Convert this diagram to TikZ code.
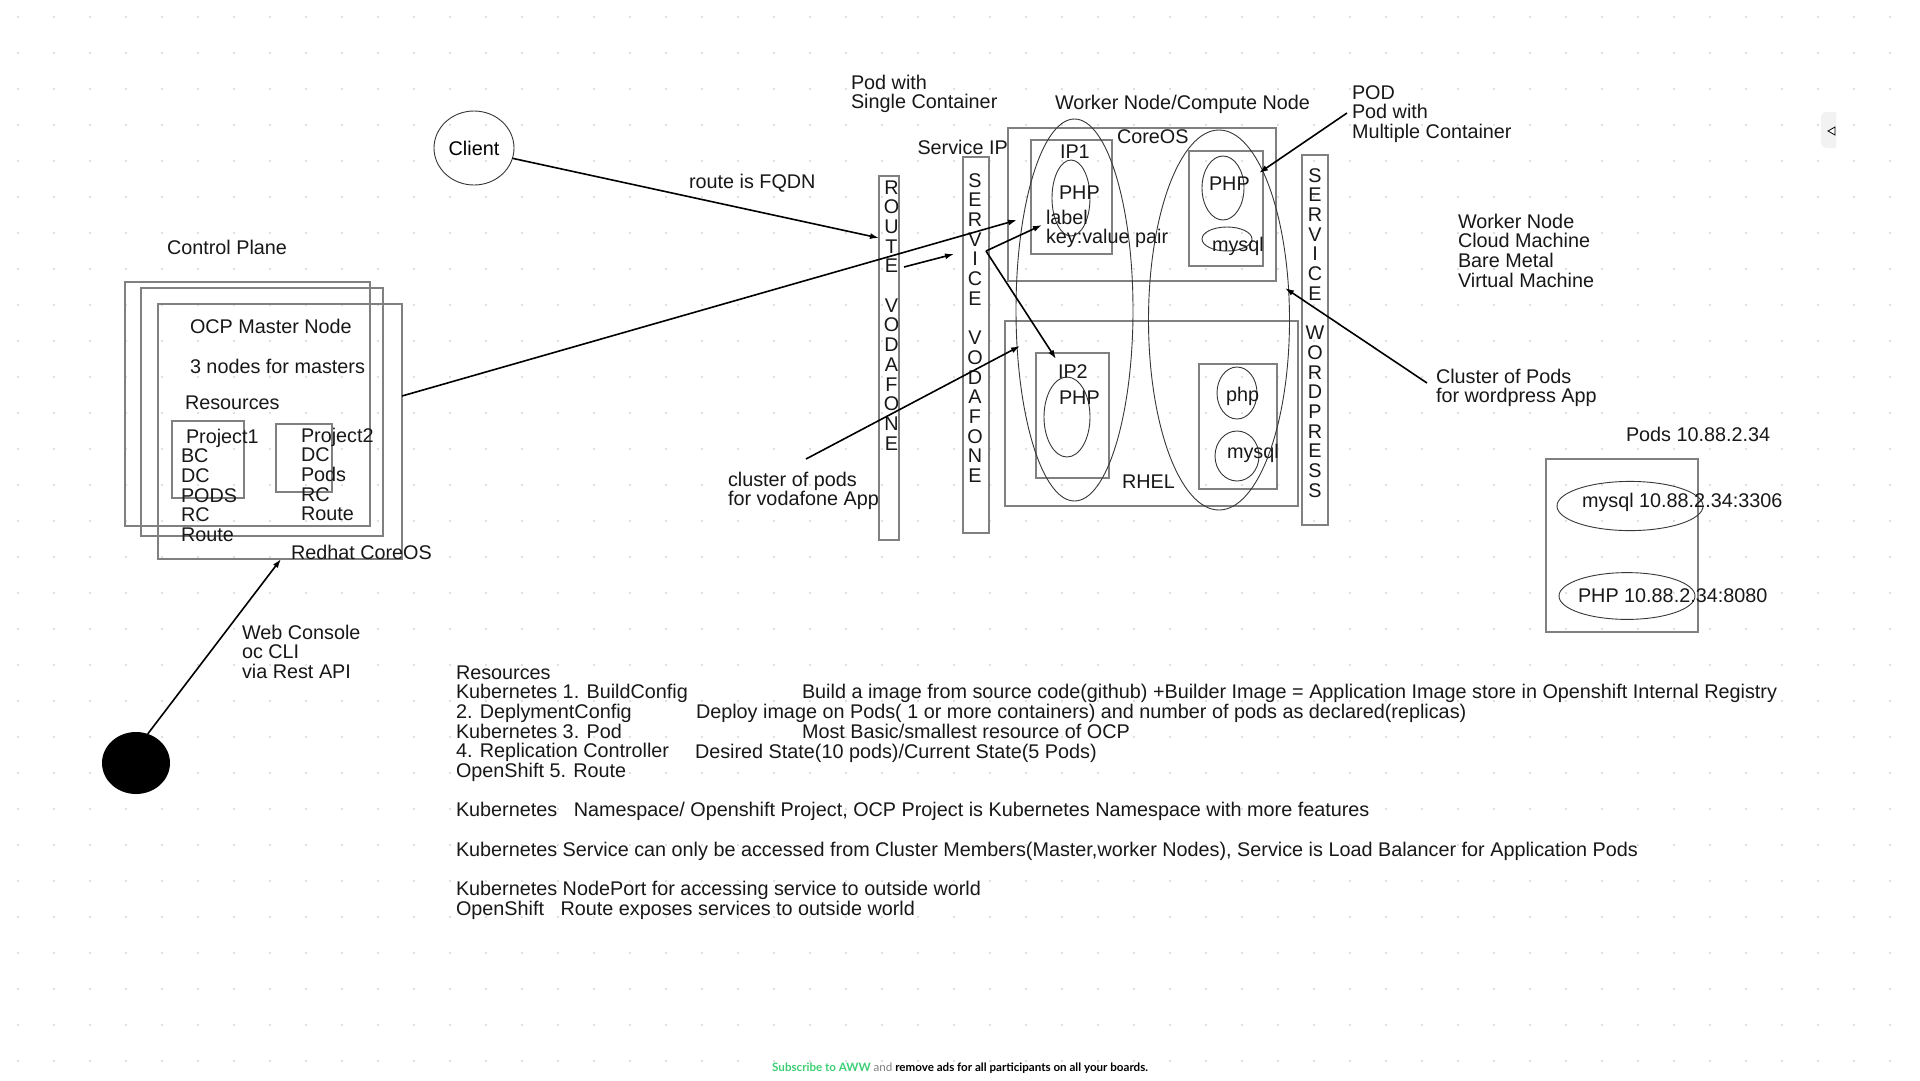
\documentclass[tikz,border=0pt]{standalone}
\usepackage{fontspec}
\setmainfont{Liberation Sans}
\newfontfamily\latofont{Lato}
\usetikzlibrary{shapes.geometric,arrows.meta}
\definecolor{boxc}{RGB}{128,128,128}
\definecolor{ellc}{RGB}{55,55,55}
\definecolor{txtc}{RGB}{24,24,24}
\definecolor{dotc}{RGB}{212,212,212}
\definecolor{awwgreen}{RGB}{62,207,118}
\definecolor{tabc}{RGB}{242,242,242}
\newcommand\fs{\fontsize{19.8pt}{19.7pt}\selectfont}
\newcommand\tp{\rule{0pt}{15pt}}
\newcommand\mkbox[5]{\node[bxs, minimum width={(#4-#2)*1pt}, minimum height={(#5-#3)*1pt}] (#1) at ({(#2+#4)/2},{(#3+#5)/2}) {};}
\newcommand\mkell[5]{\node[ells, minimum width={2*(#4)*1pt}, minimum height={2*(#5)*1pt}] (#1) at (#2,#3) {};}
\tikzset{
  bxs/.style={draw=boxc, line width=1.4pt, rectangle, inner sep=0pt, outer sep=0pt},
  ells/.style={draw=ellc, line width=0.9pt, ellipse, inner sep=0pt, outer sep=0pt},
  txt/.style={anchor=north west, inner sep=0pt, outer sep=0pt, align=left, text=txtc},
  vtxt/.style={anchor=north, inner sep=0pt, outer sep=0pt, align=center, text=txtc},
  arr/.style={draw=black, line width=1.6pt, -{Latex[length=9pt,width=6pt]}}
}
\begin{document}
\begin{tikzpicture}[x=1pt,y=-1pt,font=\fs]
\useasboundingbox (0,0) rectangle (1920,1080);
\fill[white] (0,0) rectangle (1920,1080);
% dot grid
\foreach \i in {0,...,53} {\foreach \j in {0,...,29} {\fill[dotc] (18+36*\i,17+36*\j) circle (1.1pt);}}

% ---------- control plane ----------
\mkbox{mA}{125}{282}{370}{526}
\mkbox{mB}{141}{288}{383}{536}
\mkbox{mC}{158}{304}{402}{559}
\mkbox{prj1}{172}{421}{244}{498}
\mkbox{prj2}{276}{424}{332}{492}
\node[txt] (ctrl) at (167,239) {\tp Control Plane};
\node[txt] (ocp) at (190,318) {\tp OCP Master Node};
\node[txt] (three) at (190,358) {\tp 3 nodes for masters};
\node[txt] (res1) at (185,394) {\tp Resources};
\node[txt] (p1t) at (181,428) {\tp\hspace{5pt}Project1\\BC\\DC\\PODS\\RC\\Route};
\node[txt] (p2t) at (301,427) {\tp Project2\\DC\\Pods\\RC\\Route};
\node[txt] (rhc) at (291,544) {\tp Redhat CoreOS};
\node[txt] (webc) at (242,624) {\tp Web Console\\oc CLI\\via Rest API};
\node[ellipse, fill=black, inner sep=0pt, outer sep=0pt, minimum width=68pt, minimum height=62pt] (dot) at (136,763) {};

% ---------- client / route / service ----------
\node[ells, minimum width=80pt, minimum height=74pt] (client) at (474,148) {Client};
\node[txt] (fqdn) at (689,173) {\tp route is FQDN};
\mkbox{route}{879}{176}{899}{540}
\mkbox{svcv}{963}{157}{989}{533}
\node[vtxt] (rtxt) at (891.5,179) {\tp R\\O\\U\\T\\E\\ \\V\\O\\D\\A\\F\\O\\N\\E};
\node[vtxt] (stxt) at (975,172) {\tp S\\E\\R\\V\\I\\C\\E\\ \\V\\O\\D\\A\\F\\O\\N\\E};
\node[txt] (svcip) at (917.5,139) {\tp Service IP};
\node[txt] (podsc) at (851,74) {\tp Pod with\\Single Container};
\node[txt] (clv) at (728,471) {\tp cluster of pods\\for vodafone App};

% ---------- worker nodes ----------
\node[txt] (wnc) at (1055,94) {\tp Worker Node/Compute Node};
\mkbox{coreosb}{1008}{128}{1276}{281}
\node[txt] (coreos) at (1117,128) {\tp CoreOS};
\mkbox{ip1b}{1031}{140}{1112}{254}
\node[txt] (ip1) at (1060,143) {\tp IP1};
\mkell{php1e}{1071}{198}{19}{38}
\node[txt] (php1) at (1059,184) {\tp PHP};
\node[txt] (lbl) at (1046,209) {\tp label\\key:value pair};
\mkbox{pod3}{1189}{151}{1263}{266}
\mkell{php3e}{1223}{188}{21}{32}
\node[txt] (php3) at (1209,175) {\tp PHP};
\mkell{my3e}{1227}{239}{25}{12}
\node[txt] (mysql3) at (1212,236) {\tp mysql};
\mkbox{rhelb}{1005}{321}{1298}{506}
\mkbox{ip2b}{1036}{353}{1109}{478}
\node[txt] (ip2) at (1058,363) {\tp IP2};
\mkell{php2e}{1067}{417}{23}{40}
\node[txt] (php2) at (1059,389) {\tp PHP};
\node[txt] (rhel) at (1122,473) {\tp RHEL};
\mkbox{pod4}{1199}{364}{1277}{489}
\mkell{php4e}{1237}{393}{20}{26}
\node[txt] (php4) at (1226,386) {\tp php};
\mkell{my4e}{1237}{456}{22}{25}
\node[txt] (mysql4) at (1227,443) {\tp mysql};
\mkell{clL}{1074.5}{310}{58.5}{191}
\mkell{clR}{1219}{320}{70.5}{190}
\mkbox{svcw}{1302}{155}{1328}{525}
\node[vtxt] (wtxt) at (1315,167) {\tp S\\E\\R\\V\\I\\C\\E\\ \\W\\O\\R\\D\\P\\R\\E\\S\\S};
\node[txt] (podm) at (1352,84) {\tp POD\\Pod with\\Multiple Container};
\node[txt] (clw) at (1436,368) {\tp Cluster of Pods\\for wordpress App};
\node[txt] (wnl) at (1458,213) {\tp Worker Node\\Cloud Machine\\Bare Metal\\Virtual Machine};

% ---------- pods ip ----------
\node[txt] (podsip) at (1626,426) {\tp Pods 10.88.2.34};
\mkbox{podipb}{1546}{459}{1698}{632}
\mkell{myipe}{1630}{506}{73}{24.6}
\node[txt] (mysqlip) at (1582,492) {\tp mysql 10.88.2.34:3306};
\mkell{phpipe}{1627}{596}{68}{23.4}
\node[txt] (phpip) at (1578,587) {\tp PHP 10.88.2.34:8080};

% ---------- bottom notes ----------
\node[txt] (notes) at (456,664) {\tp Resources\\Kubernetes 1. BuildConfig\\2. DeplymentConfig\\Kubernetes 3. Pod\\4. Replication Controller\\OpenShift 5. Route\\ \\Kubernetes\ \ \ Namespace/ Openshift Project, OCP Project is Kubernetes Namespace with more features\\ \\Kubernetes Service can only be accessed from Cluster Members(Master,worker Nodes), Service is Load Balancer for Application Pods\\ \\Kubernetes NodePort for accessing service to outside world\\OpenShift\ \ \ Route exposes services to outside world};
\node[txt] (bcd) at (802,683) {\tp Build a image from source code(github) +Builder Image = Application Image store in Openshift Internal Registry};
\node[txt] (dcd) at (696,703) {\tp Deploy image on Pods( 1 or more containers) and number of pods as declared(replicas)};
\node[txt] (podd) at (802,723) {\tp Most Basic/smallest resource of OCP};
\node[txt] (rcd) at (695,743) {\tp Desired State(10 pods)/Current State(5 Pods)};

% ---------- footer and tab ----------
\node[anchor=west, inner sep=0pt] (aww) at (772,1068) {\latofont\fontsize{11.6pt}{13pt}\selectfont\bfseries\color{awwgreen}Subscribe to AWW \mdseries\color{gray}and \bfseries\color{black}remove ads for all participants on all your boards.};
\fill[tabc] (1836,112) [rounded corners=6pt] -- (1821,112) -- (1821,148) [sharp corners] -- (1836,148) -- cycle;
\draw[line width=0.8pt, fill=white] (1828,131) -- (1835,127) -- (1835,135) -- cycle;

% ---------- connectors ----------
\coordinate (c1) at (879,238);
\draw[arr] (client.-15) -- (c1);
\coordinate (rs1) at (904,267);
\coordinate (rs2) at (954,254);
\draw[arr] (rs1) -- (rs2);
\coordinate (m1) at (402,396);
\coordinate (m2) at (1017,220);
\draw[arr] (m1) -- (m2);
\coordinate (s1) at (986,251);
\coordinate (l1) at (1042,225);
\draw[arr] (s1) -- (l1);
\coordinate (i2) at (1056,359);
\draw[arr] (s1) -- (i2);
\coordinate (v1) at (806,459);
\coordinate (v2) at (1020,346);
\draw[arr] (v1) -- (v2);
\coordinate (pd1) at (1347,113);
\coordinate (pd2) at (1259,173);
\draw[arr] (pd1) -- (pd2);
\coordinate (w1) at (1427,383);
\coordinate (w2) at (1285,288);
\draw[arr] (w1) -- (w2);
\coordinate (wc2) at (281,559);
\draw[arr] (dot.68) -- (wc2);
\end{tikzpicture}
\end{document}
